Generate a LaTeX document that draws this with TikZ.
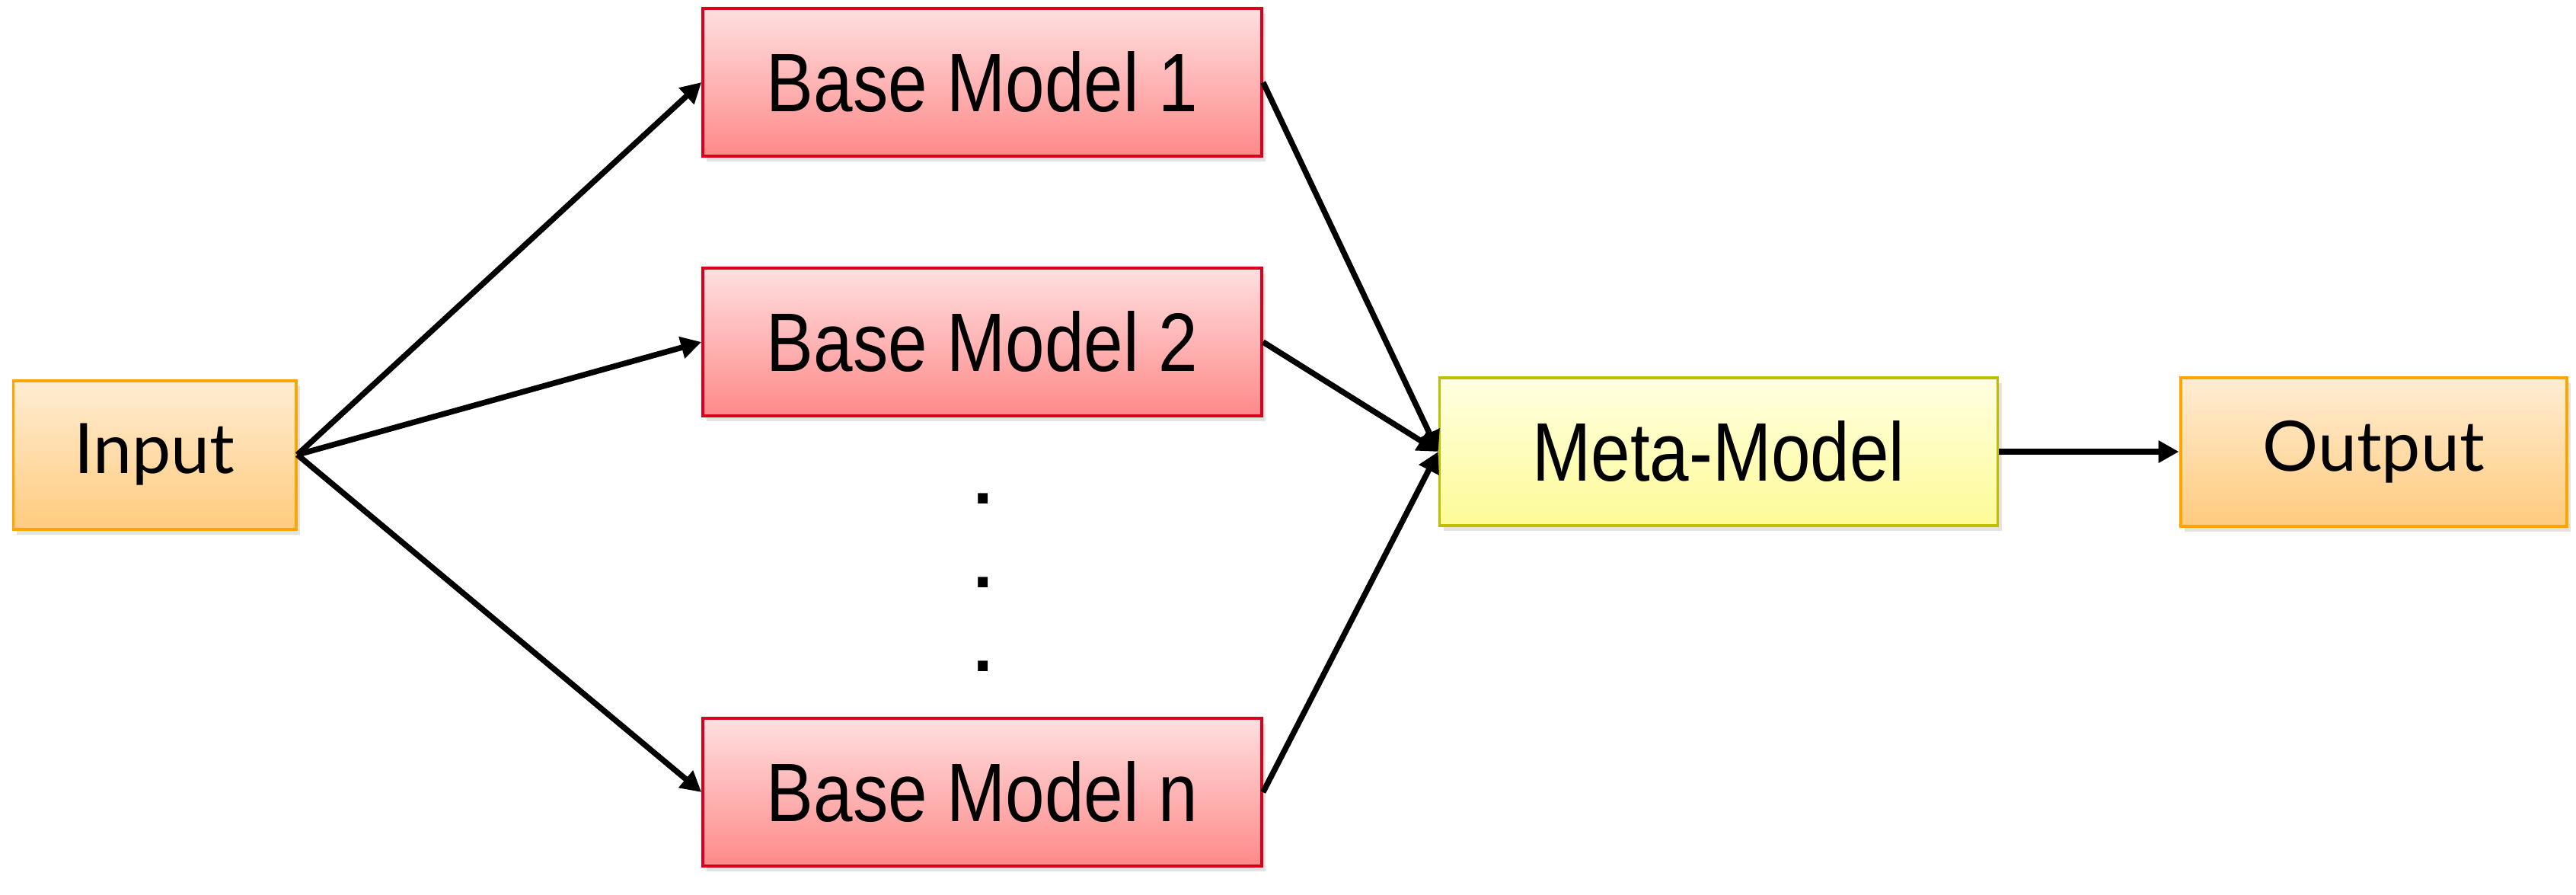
\documentclass[tikz,border=0pt]{standalone}
\usepackage{fontspec}
\usepackage{graphicx}
\usepackage{xcolor}
\setmainfont{Liberation Sans}
\newfontfamily\uifont{Lato}
\usetikzlibrary{backgrounds,shadows,arrows.meta}
\definecolor{inborder}{HTML}{FFA500}
\definecolor{intop}{HTML}{FFEDD3}
\definecolor{inbottom}{HTML}{FFCB7E}
\definecolor{baseborder}{HTML}{D9001B}
\definecolor{basetop}{HTML}{FFDFE0}
\definecolor{basebottom}{HTML}{FF8989}
\definecolor{metaborder}{HTML}{BFBF00}
\definecolor{metatop}{HTML}{FFFFE2}
\definecolor{metabottom}{HTML}{FDFB96}
\newcommand{\narrowtext}[1]{
    \scalebox{0.85}[1]{#1}\ignorespaces
}

\begin{document}
\begin{tikzpicture}[background rectangle/.style={fill=white}, show background rectangle,
    >={Triangle[length=0.27cm,width=0.28cm]},
    boxshadow/.style={drop shadow={opacity=0.22, shadow xshift=0.05cm, shadow yshift=-0.07cm}},
    iobox/.style={draw=inborder, line width=0.04cm, top color=intop, bottom color=inbottom, boxshadow, inner sep=0, minimum height=1.95cm, font=\uifont\fontsize{26}{30}\selectfont},
    basebox/.style={draw=baseborder, line width=0.035cm, top color=basetop, bottom color=basebottom, boxshadow, inner sep=0, minimum width=7.34cm, minimum height=1.94cm, font=\fontsize{31}{34}\selectfont},
    metabox/.style={draw=metaborder, line width=0.035cm, top color=metatop, bottom color=metabottom, boxshadow, inner sep=0, minimum width=7.33cm, minimum height=1.94cm, font=\fontsize{31}{34}\selectfont},
    link/.style={->, line width=0.075cm}]
    \useasboundingbox (0,0) rectangle (33.83,-11.74);

    % input and output
    \node[iobox, minimum width=3.71cm] (input) at (2.03,-5.97) {Input};
    \node[iobox, minimum width=5.07cm] (output) at (31.17,-5.93) {Output};

    % base models
    \node[basebox] (base1) at (12.90,-1.08) {\narrowtext{Base Model 1}};
    \node[basebox] (base2) at (12.90,-4.49) {\narrowtext{Base Model 2}};
    \node[basebox] (basen) at (12.90,-10.40) {\narrowtext{Base Model n}};
    \foreach \y [count=\i] in {-6.55,-7.65,-8.75}
        \node[inner sep=0, font=\bfseries\fontsize{26}{26}\selectfont] (dot\i) at (12.91,\y) {.};

    % meta-model
    \node[metabox] (meta) at (22.57,-5.93) {\narrowtext{Meta-Model}};

    % connections
    \draw[link] (input.east) -- (base1.west);
    \draw[link] (input.east) -- (base2.west);
    \draw[link] (input.east) -- (basen.west);
    \draw[link] (base1.east) -- (meta.west);
    \draw[link] (base2.east) -- (meta.west);
    \draw[link] (basen.east) -- (meta.west);
    \draw[link] (meta.east) -- (output.west);
\end{tikzpicture}
\end{document}
